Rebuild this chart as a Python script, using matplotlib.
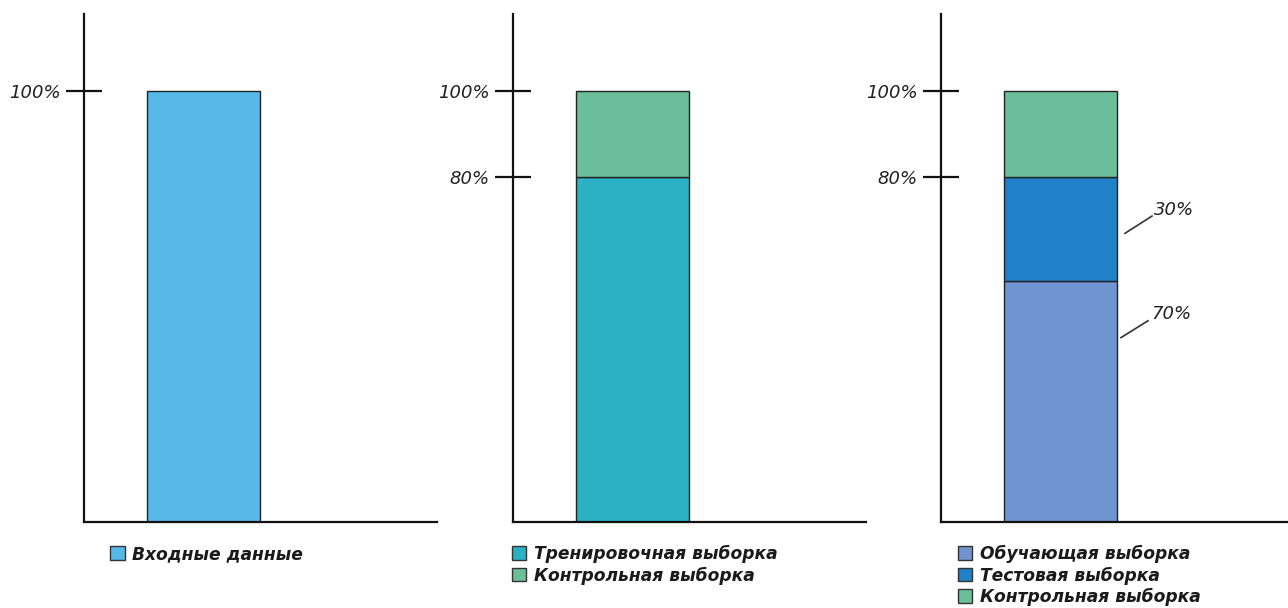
import matplotlib
matplotlib.use("Agg")
import matplotlib.pyplot as plt
from matplotlib.patches import Patch

# ---- data ----
panel1_labels = ["Входные данные"]
panel1_values = [1.00]
panel2_labels = ["Тренировочная выборка", "Контрольная выборка"]
panel2_values = [0.80, 0.20]
panel3_labels = ["Обучающая выборка", "Тестовая выборка", "Контрольная выборка"]
panel3_values = [0.56, 0.24, 0.20]
panel3_notes = ["70%", "30%"]
panel1_ticks = [1.0]
panel1_ticklabels = ["100%"]
panel23_ticks = [0.8, 1.0]
panel23_ticklabels = ["80%", "100%"]

# ---- style ----
c_input = "#56B8E8"
c_train = "#2BB1C4"
c_ctrl = "#6ABF9A"
c_learn = "#7094D0"
c_test = "#2080C8"
edge = "#222222"

plt.rcParams['font.family'] = ['DejaVu Sans']

W, H = 1288, 608
fig = plt.figure(figsize=(W / 100, H / 100), dpi=100)

def mk_axes(x0, x1, y_top=14, y_bot=522):
    return fig.add_axes([x0 / W, (H - y_bot) / H, (x1 - x0) / W, (y_bot - y_top) / H])

axes = [mk_axes(84, 437), mk_axes(513, 866), mk_axes(941, 1294)]
legend_x = [0.074, -0.003, 0.048]

panels = [
    (panel1_values, [c_input], panel1_labels, panel1_ticks, panel1_ticklabels),
    (panel2_values, [c_train, c_ctrl], panel2_labels, panel23_ticks, panel23_ticklabels),
    (panel3_values, [c_learn, c_test, c_ctrl], panel3_labels, panel23_ticks, panel23_ticklabels),
]

for ax, lx, (vals, cols, labels, ticks, tlabels) in zip(axes, legend_x, panels):
    ax.set_xlim(0, 353)
    ax.set_ylim(0, 1.179)
    bottom = 0
    for v, c in zip(vals, cols):
        ax.bar(119.5, v, width=113, bottom=bottom, color=c, edgecolor=edge, linewidth=1.0, zorder=2)
        bottom += v
    for s in ["top", "right"]:
        ax.spines[s].set_visible(False)
    for s in ["left", "bottom"]:
        ax.spines[s].set_linewidth(1.6)
        ax.spines[s].set_color("#111111")
    ax.set_xticks([])
    ax.set_yticks(ticks)
    ax.set_yticklabels(tlabels, fontsize=13, style="italic", color="#222222")
    ax.tick_params(axis="y", direction="inout", length=26, width=1.6, pad=4, color="#111111")
    handles = [Patch(facecolor=c, edgecolor="#333333", linewidth=1.0) for c in cols]
    ax.legend(handles, labels, loc="upper left", bbox_to_anchor=(lx, -0.045),
              frameon=False, handlelength=0.85, handleheight=0.85, handletextpad=0.45,
              labelspacing=0.2, borderaxespad=0, borderpad=0,
              prop={"size": 12.3, "style": "italic", "weight": "bold"}, labelcolor="#1a1a1a")

# annotations on panel 3
ax3 = axes[2]
tot = 0
annot_y = []
for v in panel3_values[:2]:
    annot_y.append(tot + v)
    tot += v
ax3.plot([180, 207], [annot_y[0] - 0.132, annot_y[0] - 0.093], color="#333333", lw=1.2, clip_on=False)
ax3.text(210, annot_y[0] - 0.077, panel3_notes[0], fontsize=13, style="italic", color="#222222", va="center")
ax3.plot([184, 211], [annot_y[1] - 0.13, annot_y[1] - 0.09], color="#333333", lw=1.2, clip_on=False)
ax3.text(213, annot_y[1] - 0.076, panel3_notes[1], fontsize=13, style="italic", color="#222222", va="center")

fig.savefig("out.png", dpi=100)
